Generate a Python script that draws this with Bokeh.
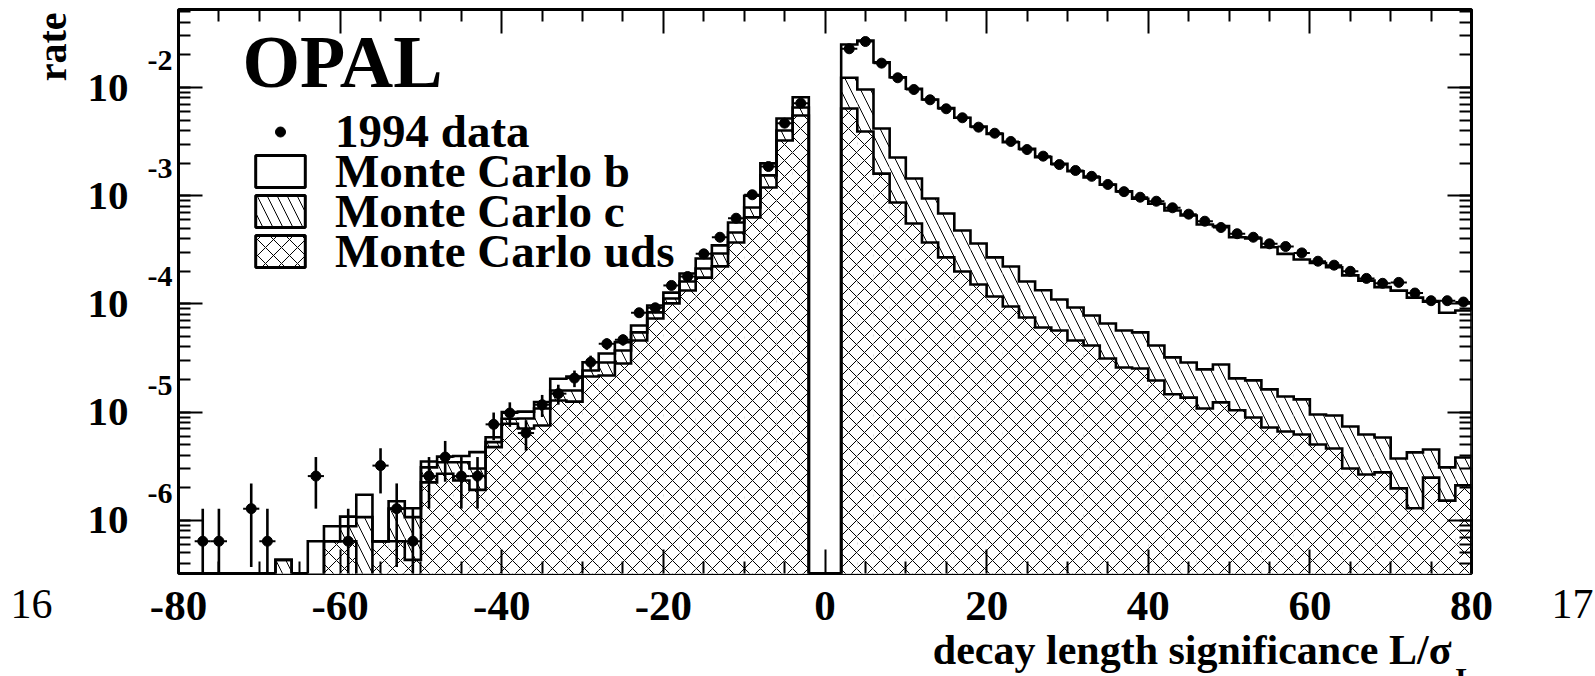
import math
from bokeh.plotting import figure
from bokeh.models import (Range1d, LinearAxis, LogAxis, FixedTicker, LogTicker, LogScale,
                          CustomJSTickFormatter, Label, Legend, LegendItem, Title,
                          ColumnDataSource)
from bokeh.embed import file_html
from bokeh.resources import INLINE

# ---------------- data ----------------
bin_centers_left = [-79, -77, -75, -73, -71, -69, -67, -65, -63, -61,
                    -59, -57, -55, -53, -51, -49, -47, -45, -43, -41,
                    -39, -37, -35, -33, -31, -29, -27, -25, -23, -21,
                    -19, -17, -15, -13, -11, -9, -7, -5, -3]
bin_centers_right = [3, 5, 7, 9, 11, 13, 15, 17, 19, 21,
                     23, 25, 27, 29, 31, 33, 35, 37, 39, 41,
                     43, 45, 47, 49, 51, 53, 55, 57, 59, 61,
                     63, 65, 67, 69, 71, 73, 75, 77, 79]
bin_half_width = 1.0

data_left = [None, 6.4e-7, 6.4e-7, None, 1.28e-6, 6.4e-7, None, None, 2.56e-6, None,
             6.4e-7, None, 3.2e-6, 1.28e-6, 6.4e-7, 2.56e-6, 3.84e-6, 2.56e-6, 2.56e-6, 7.7e-6,
             9.8e-6, 6.4e-6, 1.17e-5, 1.48e-5, 2.06e-5, 2.89e-5, 4.28e-5, 4.66e-5, 8.28e-5, 9.2e-5,
             1.48e-4, 1.79e-4, 2.9e-4, 4.13e-4, 6.19e-4, 1.02e-3, 1.86e-3, 4.68e-3, 7.16e-3]
data_left_err = [None, 6.4e-7, 6.4e-7, None, 9.1e-7, 6.4e-7, None, None, 1.28e-6, None,
                 6.4e-7, None, 1.43e-6, 9.1e-7, 6.4e-7, 1.28e-6, 1.57e-6, 1.28e-6, 1.28e-6, 2.2e-6,
                 2.5e-6, 2.0e-6, 2.7e-6, 3.1e-6, 3.6e-6, 4.3e-6, 5.2e-6, 5.5e-6, 7.3e-6, 7.7e-6,
                 9.7e-6, 1.07e-5, 1.36e-5, 1.63e-5, 2.0e-5, 2.6e-5, 3.4e-5, 5.5e-5, 6.8e-5]
data_right = [2.28e-2, 2.66e-2, 1.68e-2, 1.23e-2, 9.58e-3, 7.70e-3, 6.36e-3, 5.25e-3, 4.30e-3, 3.78e-3,
              3.17e-3, 2.67e-3, 2.32e-3, 1.94e-3, 1.71e-3, 1.51e-3, 1.27e-3, 1.09e-3, 9.68e-4, 8.89e-4,
              7.73e-4, 6.75e-4, 5.81e-4, 5.08e-4, 4.45e-4, 4.13e-4, 3.59e-4, 3.39e-4, 2.96e-4, 2.48e-4,
              2.28e-4, 2.00e-4, 1.72e-4, 1.55e-4, 1.58e-4, 1.26e-4, 1.07e-4, 1.07e-4, 1.04e-4]
data_right_err = [1.21e-4, 1.30e-4, 1.04e-4, 8.9e-5, 7.8e-5, 7.0e-5, 6.4e-5, 5.8e-5, 5.2e-5, 4.9e-5,
                  4.5e-5, 4.1e-5, 3.9e-5, 3.5e-5, 3.3e-5, 3.1e-5, 2.9e-5, 2.6e-5, 2.5e-5, 2.4e-5,
                  2.2e-5, 2.1e-5, 1.9e-5, 1.8e-5, 1.7e-5, 1.6e-5, 1.5e-5, 1.5e-5, 1.4e-5, 1.3e-5,
                  1.2e-5, 1.1e-5, 1.0e-5, 1.0e-5, 1.0e-5, 9.0e-6, 8.3e-6, 8.3e-6, 8.2e-6]

mc_uds_left = [0, 0, 0, 0, 0, 0, 0, 0, 0, 6.4e-7,
               6.4e-7, 0, 6.4e-7, 6.4e-7, 4.3e-7, 2.24e-6, 2.69e-6, 2.33e-6, 1.91e-6, 4.74e-6,
               7.80e-6, 7.05e-6, 7.52e-6, 1.28e-5, 1.25e-5, 2.13e-5, 2.18e-5, 2.81e-5, 4.59e-5, 7.33e-5,
               1.01e-4, 1.33e-4, 1.75e-4, 2.22e-4, 3.69e-4, 6.30e-4, 1.19e-3, 3.24e-3, 5.51e-3]
mc_c_left = [0, 0, 0, 0, 0, 0, 4.3e-7, 0, 0, 0,
             2.4e-7, 1.07e-6, 0, 6.4e-7, 6.4e-7, 8.4e-7, 7.5e-7, 1.11e-6, 1.10e-6, 5.3e-7,
             8.7e-7, 1.68e-6, 3.28e-6, 3.0e-6, 3.3e-6, 2.9e-6, 6.9e-6, 9.0e-6, 8.6e-6, 1.01e-5,
             1.1e-5, 2.8e-5, 3.7e-5, 7.0e-5, 8.8e-5, 1.48e-4, 3.5e-4, 7.7e-4, 1.02e-3]
mc_b_left = [0, 0, 0, 0, 0, 0, 0, 0, 6.4e-7, 2.4e-7,
             2.0e-7, 6.5e-7, 0, 2.2e-7, 2.2e-7, 4.1e-7, 4.5e-7, 4.8e-7, 1.25e-6, 5.9e-7,
             1.31e-6, 1.37e-6, 1.6e-6, 4.5e-6, 5.5e-6, 4.7e-6, 6.1e-6, 7.2e-6, 8.6e-6, 1.32e-5,
             1.5e-5, 3.0e-5, 5.1e-5, 5.5e-5, 1.08e-4, 2.22e-4, 4.5e-4, 1.16e-3, 1.60e-3]

mc_uds_right = [6.40e-3, 3.92e-3, 1.60e-3, 8.65e-4, 5.53e-4, 3.69e-4, 2.69e-4, 1.99e-4, 1.51e-4, 1.17e-4,
                9.46e-5, 7.48e-5, 6.05e-5, 5.68e-5, 4.59e-5, 4.13e-5, 3.13e-5, 2.58e-5, 2.53e-5, 1.96e-5,
                1.46e-5, 1.36e-5, 1.08e-5, 1.23e-5, 1.04e-5, 8.91e-6, 7.21e-6, 6.62e-6, 6.21e-6, 5.02e-6,
                4.61e-6, 3.01e-6, 2.65e-6, 2.77e-6, 1.97e-6, 1.29e-6, 2.48e-6, 1.52e-6, 2.10e-6]
mc_c_right = [5.9e-3, 5.66e-3, 2.58e-3, 1.39e-3, 8.9e-4, 5.73e-4, 4.15e-4, 2.78e-4, 2.10e-4, 1.52e-4,
              1.27e-4, 8.6e-5, 7.3e-5, 5.3e-5, 4.68e-5, 3.69e-5, 3.46e-5, 3.10e-5, 2.92e-5, 2.17e-5,
              1.74e-5, 1.51e-5, 1.40e-5, 1.52e-5, 1.01e-5, 1.07e-5, 9.0e-6, 7.3e-6, 6.9e-6, 4.48e-6,
              4.70e-6, 4.35e-6, 3.56e-6, 3.05e-6, 1.75e-6, 2.95e-6, 2.03e-6, 1.56e-6, 1.70e-6]
mc_b_right = [1.27e-2, 1.76e-2, 1.29e-2, 1.02e-2, 8.29e-3, 6.80e-3, 5.76e-3, 4.77e-3, 4.00e-3, 3.46e-3,
              2.90e-3, 2.55e-3, 2.14e-3, 1.86e-3, 1.59e-3, 1.40e-3, 1.20e-3, 1.04e-3, 8.82e-4, 8.00e-4,
              6.98e-4, 6.27e-4, 5.17e-4, 4.96e-4, 3.93e-4, 3.82e-4, 3.18e-4, 2.76e-4, 2.44e-4, 2.29e-4,
              2.09e-4, 1.76e-4, 1.58e-4, 1.37e-4, 1.29e-4, 1.10e-4, 1.00e-4, 7.97e-5, 8.31e-5]

x_major_ticks = [-80, -60, -40, -20, 0, 20, 40, 60, 80]
legend_labels = ["1994 data", "Monte Carlo b", "Monte Carlo c", "Monte Carlo uds"]
x_title = "decay length significance L/σ"
x_title_sub = "L"
y_title = "rate"
experiment = "OPAL"
page_left, page_right = "16", "17"

# ---------------- styling ----------------
FONT = "Liberation Serif"
Y_LO, Y_HI = 3.22e-7, 5.26e-2
EXP_SHIFT = 10 ** -0.25          # raises exponent labels ~27 px above their decade tick
FLOOR = 1e-9
LW = 2.6

p = figure(width=1595, height=676, x_range=Range1d(-80, 80), y_range=Range1d(Y_LO, Y_HI),
           y_axis_type="log", output_backend="svg", toolbar_location=None,
           min_border_left=178, min_border_right=124, min_border_top=9, min_border_bottom=103)
p.background_fill_color = "white"
p.border_fill_color = "white"
p.outline_line_color = "black"
p.outline_line_width = 3
p.xgrid.visible = False
p.ygrid.visible = False
p.extra_y_ranges = {"exp": Range1d(Y_LO * EXP_SHIFT, Y_HI * EXP_SHIFT)}
p.extra_y_scales = {"exp": LogScale()}

x_minor = [v for v in range(-80, 81, 5) if v not in x_major_ticks]


def ticks_style(ax, show=True):
    ax.axis_line_color = None
    if show:
        ax.major_tick_in, ax.major_tick_out = 24, 0
        ax.minor_tick_in, ax.minor_tick_out = 12, 0
        ax.major_tick_line_width = 2
        ax.minor_tick_line_width = 2
        ax.major_tick_line_color = "black"
        ax.minor_tick_line_color = "black"
    else:
        ax.major_tick_line_color = None
        ax.minor_tick_line_color = None
        ax.major_tick_in = ax.major_tick_out = 0
        ax.minor_tick_in = ax.minor_tick_out = 0


def labels_style(ax, size):
    ax.major_label_text_font = FONT
    ax.major_label_text_font_style = "bold"
    ax.major_label_text_font_size = size
    ax.major_label_text_color = "black"


def no_labels(ax):
    ax.formatter = CustomJSTickFormatter(code="return '';")
    ax.major_label_text_font_size = "0px"
    ax.major_label_standoff = 0


# bottom axis with labels
xax = p.xaxis[0]
xax.ticker = FixedTicker(ticks=x_major_ticks, minor_ticks=x_minor)
xax.formatter = CustomJSTickFormatter(code="return tick.toFixed(0);")
ticks_style(xax)
labels_style(xax, "43px")
xax.major_label_standoff = 18

# left: tick marks at the frame, then exponents, then the "10" mantissas
yax = p.yaxis[0]
yax.ticker = LogTicker(num_minor_ticks=10)
ticks_style(yax)
no_labels(yax)

exp_ax = LogAxis(y_range_name="exp", ticker=LogTicker(num_minor_ticks=0),
                 formatter=CustomJSTickFormatter(code="return Math.round(Math.log10(tick)).toString();"))
ticks_style(exp_ax, show=False)
labels_style(exp_ax, "30px")
exp_ax.major_label_standoff = 6
p.add_layout(exp_ax, "left")

ten_ax = LogAxis(ticker=LogTicker(num_minor_ticks=0),
                 formatter=CustomJSTickFormatter(code="return '10';"))
ticks_style(ten_ax, show=False)
labels_style(ten_ax, "41px")
ten_ax.major_label_standoff = 16
p.add_layout(ten_ax, "left")

# mirrored ticks on top and right
top_ax = LinearAxis(ticker=FixedTicker(ticks=x_major_ticks, minor_ticks=x_minor))
ticks_style(top_ax)
no_labels(top_ax)
p.add_layout(top_ax, "above")
right_ax = LogAxis(ticker=LogTicker(num_minor_ticks=10))
ticks_style(right_ax)
no_labels(right_ax)
p.add_layout(right_ax, "right")

# ---------------- stacked histograms ----------------
centers = bin_centers_left + bin_centers_right
uds = mc_uds_left + mc_uds_right
cc = mc_c_left + mc_c_right
bb = mc_b_left + mc_b_right
stack_uds = list(uds)
stack_c = [u + c for u, c in zip(uds, cc)]
stack_tot = [u + c + b for u, c, b in zip(uds, cc, bb)]


def positive(vals):
    return [v if v > 0 else FLOOR for v in vals]


hsrc = ColumnDataSource(dict(
    left=[c - bin_half_width for c in centers],
    right=[c + bin_half_width for c in centers],
    bottom=[FLOOR] * len(centers),
    tot=positive(stack_tot), cstk=positive(stack_c), ustk=positive(stack_uds)))

C_HATCH = dict(hatch_pattern="\\", hatch_scale=20, hatch_weight=1, hatch_color="black")
U_HATCH = dict(hatch_pattern="x", hatch_scale=16, hatch_weight=1, hatch_color="black")

p.quad(left="left", right="right", bottom="bottom", top="tot", source=hsrc,
       fill_color="white", line_color=None)
p.quad(left="left", right="right", bottom="bottom", top="cstk", source=hsrc,
       fill_color="white", line_color=None, **C_HATCH)
p.quad(left="left", right="right", bottom="bottom", top="ustk", source=hsrc,
       fill_color="white", line_color=None, **U_HATCH)


def step_path(cents, vals):
    xs = [cents[0] - bin_half_width]
    ys = [FLOOR]
    for c, v in zip(cents, vals):
        v = v if v > 0 else FLOOR
        xs += [c - bin_half_width, c + bin_half_width]
        ys += [v, v]
    xs.append(cents[-1] + bin_half_width)
    ys.append(FLOOR)
    return xs, ys


nL = len(bin_centers_left)
for stack in (stack_tot, stack_c, stack_uds):
    for cents, vals in ((bin_centers_left, stack[:nL]), (bin_centers_right, stack[nL:])):
        xs, ys = step_path(cents, vals)
        p.line(xs, ys, line_color="black", line_width=LW, line_join="miter")

# ---------------- data points ----------------
dx, dy, dlo, dhi, dl, dr = [], [], [], [], [], []
for cents, vals, errs in ((bin_centers_left, data_left, data_left_err),
                          (bin_centers_right, data_right, data_right_err)):
    for c, v, e in zip(cents, vals, errs):
        if v is None:
            continue
        dx.append(c)
        dy.append(v)
        lo = v - e
        dlo.append(lo if lo > 0 else FLOOR)
        dhi.append(v + e)
        dl.append(c - bin_half_width)
        dr.append(c + bin_half_width)
dsrc = ColumnDataSource(dict(x=dx, y=dy, lo=dlo, hi=dhi, l=dl, r=dr))
p.segment(x0="x", y0="lo", x1="x", y1="hi", source=dsrc, line_color="black", line_width=LW)
p.segment(x0="l", y0="y", x1="r", y1="y", source=dsrc, line_color="black", line_width=2)
r_data = p.scatter(x="x", y="y", source=dsrc, marker="circle", size=10,
                   fill_color="black", line_color="black")

# ---------------- legend (proxy renderers draw nothing: NaN geometry) ----------------
nan = float("nan")
proxy = ColumnDataSource(dict(l=[nan], r=[nan], t=[nan], b=[nan]))
r_b = p.quad(left="l", right="r", top="t", bottom="b", source=proxy, fill_color="white",
             line_color="black", line_width=3)
r_c = p.quad(left="l", right="r", top="t", bottom="b", source=proxy, fill_color="white",
             line_color="black", line_width=3, **C_HATCH)
r_u = p.quad(left="l", right="r", top="t", bottom="b", source=proxy, fill_color="white",
             line_color="black", line_width=3, **U_HATCH)

legend_rows = [(legend_labels[0], r_data, 25, 415),
               (legend_labels[1], r_b, 40, 375),
               (legend_labels[2], r_c, 40, 335),
               (legend_labels[3], r_u, 40, 295)]
for label, rend, gh, ypos in legend_rows:
    p.add_layout(Legend(items=[LegendItem(label=label, renderers=[rend])],
                        location=(71, ypos), glyph_width=62, glyph_height=gh,
                        label_standoff=24, padding=0, margin=0,
                        border_line_alpha=0, background_fill_alpha=0,
                        label_text_font=FONT, label_text_font_style="bold",
                        label_text_font_size="47px", label_text_color="black"))

# ---------------- texts ----------------
p.add_layout(Label(x=-80, y=Y_HI, text=experiment, x_offset=64, y_offset=-52,
                   text_align="left", text_baseline="alphabetic", text_font=FONT,
                   text_font_style="bold", text_font_size="74px", text_color="black"))

p.add_layout(Title(text=x_title, align="right", offset=20, standoff=4,
                   text_font=FONT, text_font_style="bold", text_font_size="42px",
                   text_color="black"), "below")

p.add_layout(Label(x=-80, y=Y_HI, text=y_title, x_offset=-126, y_offset=-3, angle=math.pi / 2,
                   text_align="right", text_baseline="alphabetic", text_font=FONT,
                   text_font_style="bold", text_font_size="40px", text_color="black"), "left")

right_labels = [
    Label(x=80, y=Y_LO, text=x_title_sub, x_offset=-16, y_offset=-104,
          text_align="left", text_baseline="alphabetic", text_font=FONT,
          text_font_style="bold", text_font_size="30px", text_color="black"),
    Label(x=80, y=Y_LO, text=page_right, x_offset=80, y_offset=-30,
          text_align="left", text_baseline="alphabetic", text_font=FONT,
          text_font_size="42px", text_color="black"),
    Label(x=-80, y=Y_LO, text=page_left, x_offset=-168, y_offset=-30,
          text_align="left", text_baseline="alphabetic", text_font=FONT,
          text_font_size="42px", text_color="black"),
]
for lab in right_labels:
    p.add_layout(lab, "right")

open("out.html", "w").write(file_html(p, INLINE))
